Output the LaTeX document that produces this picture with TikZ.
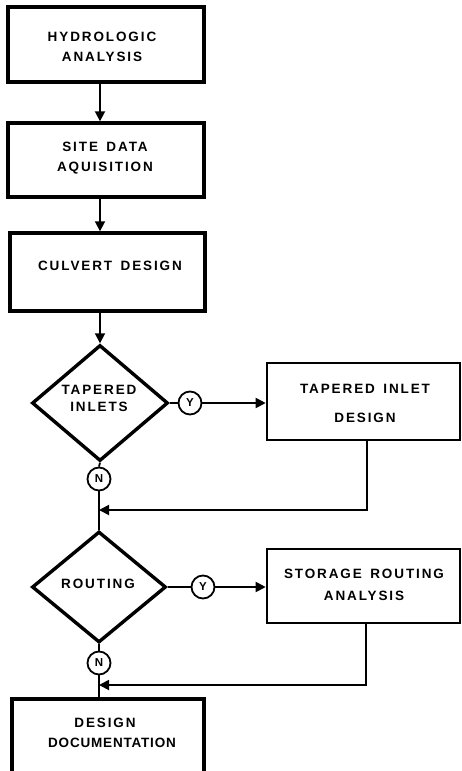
\documentclass[tikz,border=0pt]{standalone}
\usepackage{fontspec}
\usetikzlibrary{shapes.geometric,arrows.meta}
\newfontfamily\labfont{Liberation Sans}[LetterSpace=14,WordSpace=1.5]
\newfontfamily\tightlabfont{Liberation Sans}[LetterSpace=6]
\begin{document}
\begin{tikzpicture}[x=1pt,y=-1pt,
  thickbox/.style={draw,line width=3.4pt,rectangle,inner sep=0pt},
  thinbox/.style={draw,line width=2.6pt,rectangle,inner sep=0pt},
  decision/.style={draw,line width=3.4pt,diamond,inner sep=0pt},
  answer/.style={draw,line width=1.8pt,circle,minimum size=23pt,inner sep=0pt,font=\labfont\bfseries\fontsize{11.5}{11.5}\selectfont},
  txt/.style={inner sep=0pt,align=center,font=\labfont\bfseries\fontsize{13.5}{20}\selectfont},
  conn/.style={line width=1.8pt},
  arr/.style={conn,-{Triangle[width=10pt,length=10pt]}}]
\useasboundingbox (0,0) rectangle (461,771);
% boxes
\node[thickbox,minimum width=196pt,minimum height=75pt] (b1) at (106,44.5) {};
\node[thickbox,minimum width=196pt,minimum height=74pt] (b2) at (106,160) {};
\node[thickbox,minimum width=195pt,minimum height=78pt] (b3) at (107.5,272) {};
\node[decision,minimum width=136pt,minimum height=116pt] (d1) at (100,403) {};
\node[answer] (y1) at (190,403) {Y};
\node[thinbox,minimum width=193pt,minimum height=77pt] (b4) at (363.5,401.5) {};
\node[answer] (n1) at (99,479) {N};
\coordinate (m1) at (99,510);
\node[decision,minimum width=134pt,minimum height=111pt] (d2) at (99,587) {};
\node[answer] (y2) at (203,587) {Y};
\node[thinbox,minimum width=193pt,minimum height=74pt] (b5) at (363.5,586) {};
\node[answer] (n2) at (99,663) {N};
\coordinate (m2) at (99,685);
\node[thickbox,minimum width=192pt,minimum height=110pt] (b6) at (108,754) {};
% texts
\node[txt] (t1) at (102,47) {HYDROLOGIC\\ANALYSIS};
\node[txt] (t2) at (105,158) {SITE DATA\\AQUISITION};
\node[txt] (t3) at (110,266) {CULVERT DESIGN};
\node[txt] (t4) at (99,398.5) {TAPERED\\[-3pt]INLETS};
\node[txt] (t5) at (365,403.5) {TAPERED INLET\\[9pt]DESIGN};
\node[txt] (t6) at (98,584) {ROUTING};
\node[txt] (t7) at (364,585) {STORAGE ROUTING\\[2pt]ANALYSIS};
\node[txt] (t8) at (112,733) {\hspace*{-14pt}DESIGN\\{\tightlabfont\bfseries DOCUMENTATION}};
% connectors
\draw[arr] (b1.south -| d1) -- (b2.north -| d1);
\draw[arr] (b2.south -| d1) -- (b3.north -| d1);
\draw[arr] (b3.south -| d1) -- (d1.north);
\draw[conn] (d1.east) -- (y1.west);
\draw[arr] (y1.east) -- (b4.west |- y1);
\draw[conn] (d1.south) -- (n1.north);
\draw[conn] (n1.south) -- (d2.north);
\draw[arr] (b4.south -| 367,0) |- (m1);
\draw[conn] (d2.east) -- (y2.west);
\draw[arr] (y2.east) -- (b5.west |- y2);
\draw[conn] (d2.south) -- (n2.north);
\draw[conn] (n2.south) -- (b6.north -| n2);
\draw[arr] (b5.south -| 366,0) |- (m2);
\end{tikzpicture}
\end{document}
